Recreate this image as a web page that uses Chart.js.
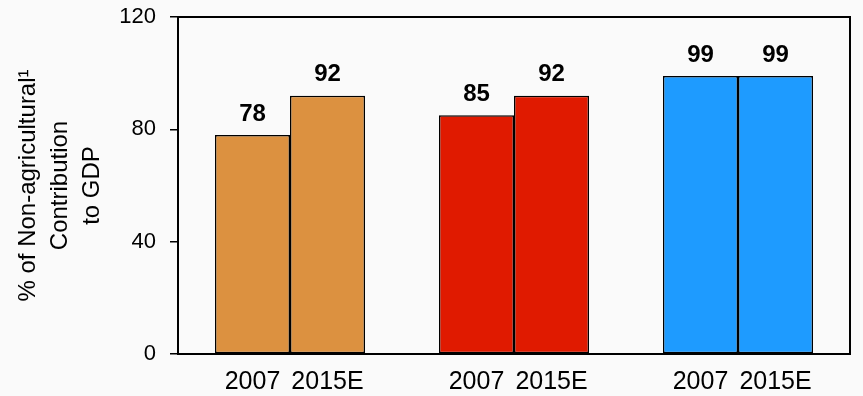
<!DOCTYPE html>
<html lang="en">
<head>
  <meta charset="UTF-8">
  <title>Non-agricultural contribution to GDP</title>
  <style>
    html, body {
      margin: 0;
      padding: 0;
      background-color: #fafafa;
    }

    #wrap {
      width: 863px;
      height: 396px;
    }
  </style>
</head>
<body>
  <div id="wrap">
    <canvas id="grafico" width="863" height="396"></canvas>
  </div>

  <script src="https://cdn.jsdelivr.net/npm/chart.js"></script>
  <script>
    // three country groups, each with a 2007 and a 2015E bar
    const grupos = ['A', 'B', 'C'];
    const series = ['2007', '2015E'];
    const valores2007 = [78, 85, 99];
    const valores2015E = [92, 92, 99];
    const coresGrupo = ['#dc9140', '#e01a00', '#1e9bff'];
    const ticksY = [0, 40, 80, 120];
    const tituloY = ['% of Non-agricultural\u00b9', 'Contribution', 'to GDP'];

    const fonte = "Arial, 'Liberation Sans', sans-serif";

    // value above every bar and the series name below it
    const rotulos = {
      id: 'rotulos',
      afterDatasetsDraw(chart) {
        const ctx = chart.ctx;
        ctx.save();
        ctx.fillStyle = '#000';
        ctx.textAlign = 'center';
        ctx.textBaseline = 'middle';
        chart.data.datasets.forEach((ds, i) => {
          chart.getDatasetMeta(i).data.forEach((bar, j) => {
            ctx.font = 'bold 24px ' + fonte;
            ctx.fillText(String(ds.data[j]), bar.x, bar.y - 21);
            ctx.font = '25px ' + fonte;
            ctx.fillText(ds.label, bar.x, chart.chartArea.bottom + 28);
          });
        });
        ctx.restore();
      }
    };

    // box round the plot area
    const moldura = {
      id: 'moldura',
      afterDraw(chart) {
        const a = chart.chartArea;
        const ctx = chart.ctx;
        ctx.save();
        ctx.strokeStyle = '#000';
        ctx.lineWidth = 2;
        ctx.strokeRect(a.left, a.top, a.right - a.left, a.bottom - a.top);
        ctx.restore();
      }
    };

    const ctx = document.getElementById('grafico').getContext('2d');
    const grafico = new Chart(ctx, {
      type: 'bar',
      data: {
        labels: grupos,
        datasets: [
          {
            label: series[0],
            data: valores2007,
            backgroundColor: coresGrupo,
            borderColor: '#000',
            borderWidth: 1.5,
            borderSkipped: false
          },
          {
            label: series[1],
            data: valores2015E,
            backgroundColor: coresGrupo,
            borderColor: '#000',
            borderWidth: 1.5,
            borderSkipped: false
          }
        ]
      },
      options: {
        responsive: false,
        animation: false,
        layout: {
          padding: { top: 17, right: 13, bottom: 42, left: 0 }
        },
        datasets: {
          bar: { barPercentage: 1, categoryPercentage: 0.67 }
        },
        plugins: {
          legend: { display: false },
          tooltip: { enabled: false }
        },
        scales: {
          x: {
            display: false
          },
          y: {
            min: 0,
            max: 120,
            afterFit(scale) {
              scale.width = 178;
              scale.paddingTop = 0;
              scale.paddingBottom = 0;
            },
            afterBuildTicks(scale) {
              scale.ticks = ticksY.map(v => ({ value: v }));
            },
            ticks: {
              color: '#000',
              padding: 14,
              font: { family: fonte, size: 22 }
            },
            grid: {
              drawOnChartArea: false,
              tickLength: 8,
              color: '#000',
              lineWidth: 1.5
            },
            border: { display: true, color: '#000', width: 2 },
            title: {
              display: true,
              text: tituloY,
              color: '#000',
              padding: { top: 12, bottom: 0 },
              font: { family: fonte, size: 24, lineHeight: '32px' }
            }
          }
        }
      },
      plugins: [rotulos, moldura]
    });
  </script>
</body>
</html>
